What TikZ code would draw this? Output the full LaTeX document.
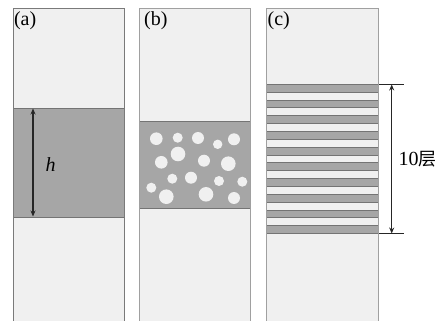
\documentclass[tikz,border=0pt]{standalone}
\usepackage{fontspec}
\setmainfont{Liberation Serif}
\newfontfamily\cjk{Noto Sans CJK SC}
\usetikzlibrary{arrows.meta}
\definecolor{panelfill}{HTML}{F0F0F0}
\definecolor{edgedark}{HTML}{7A7A7A}
\definecolor{edgelight}{HTML}{A0A0A0}
\definecolor{bandgray}{HTML}{A6A6A6}
\definecolor{banddraw}{HTML}{747474}
\definecolor{dimcol}{HTML}{262626}
\begin{document}
\begin{tikzpicture}[x=1pt,y=-1pt,
  panelbg/.style={fill=panelfill,draw=none},
  paneledge/.style={draw=#1,line width=0.9pt},
  band/.style={fill=bandgray,draw=banddraw,line width=0.7pt},
  pore/.style={fill=panelfill,draw=none},
  dimarrow/.style={draw=dimcol,line width=1.4pt,{Stealth[length=6pt,width=5pt]}-{Stealth[length=6pt,width=5pt]}},
  dimtick/.style={draw=dimcol,line width=1.8pt},
  lbl/.style={font=\rmfamily\fontsize{20}{22}\selectfont,inner sep=0pt,text=black}]
\useasboundingbox (0,0) rectangle (440,321);
% panel (a)
\fill[panelbg] (13.3,8.5) rectangle (124.7,322);
\draw[band] (13.3,108) rectangle (124.7,217);
\draw[paneledge=edgedark] (13.3,322) -- (13.3,8.5) -- (124.7,8.5) -- (124.7,322);
\coordinate (ha) at (33,108.5);
\coordinate (hb) at (33,216.5);
\draw[dimarrow] (ha) -- (hb);
\node[lbl,anchor=west] (hlab) at (45.5,165) {\itshape h};
\node[lbl,anchor=west] (la) at (13.8,20.5) {(a)};
% panel (b)
\fill[panelbg] (139.3,8.5) rectangle (250.7,322);
\draw[band] (139.3,121.8) rectangle (250.7,208.6);
\foreach \x/\y/\r in {156.3/138.7/6.3, 177.7/137.7/5, 198/138/6, 217.7/144.3/4.7, 234/139.3/6,
  178/154/7.3, 161.3/162.3/6.3, 204/160.7/6, 228.3/163.7/7.3,
  172.3/178.7/5, 191/177.7/6, 219/181/5, 242.3/181.7/5,
  151.3/187.7/5, 166.3/196.7/7.3, 206/194.3/7.3, 234/198/6}
  \fill[pore] (\x,\y) circle (\r);
\draw[paneledge=edgelight] (139.3,322) -- (139.3,8.5) -- (250.7,8.5) -- (250.7,322);
\node[lbl,anchor=west] (lb) at (144,20.5) {(b)};
% panel (c)
\fill[panelbg] (266.7,8.5) rectangle (378.3,322);
\foreach \i in {0,...,9}
  \draw[band] (266.7,84.3+15.7*\i) rectangle (378.3,92.1+15.7*\i);
\draw[paneledge=edgelight] (266.7,322) -- (266.7,8.5) -- (378.3,8.5) -- (378.3,322);
\node[lbl,anchor=west] (lc) at (267.5,20.5) {(c)};
\coordinate (t1) at (379,84.5);
\coordinate (t2) at (404,84.5);
\coordinate (b1) at (379,233.5);
\coordinate (b2) at (404,233.5);
\coordinate (ta) at (391.7,84.5);
\coordinate (tb) at (391.7,233.5);
\draw[dimtick] (t1) -- (t2);
\draw[dimtick] (b1) -- (b2);
\draw[dimarrow] (ta) -- (tb);
\node[lbl,anchor=west] (nl) at (398.5,159.5) {10{\cjk\fontsize{18}{20}\selectfont 层}};
\end{tikzpicture}
\end{document}
